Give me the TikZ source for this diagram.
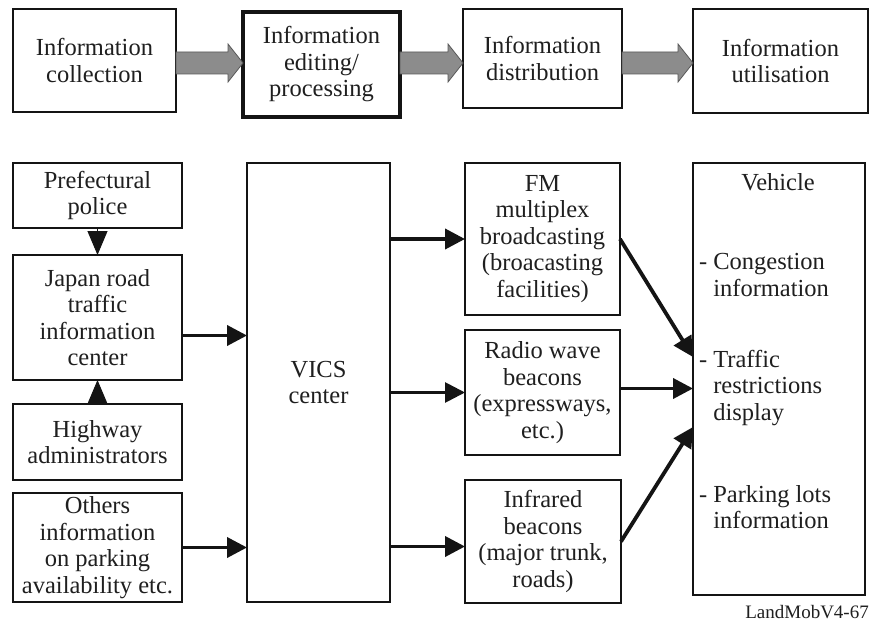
\documentclass[tikz,border=0pt]{standalone}
\usepackage{fontspec}
\setmainfont{Liberation Serif}
\usetikzlibrary{arrows.meta,calc}
\begin{document}
\begin{tikzpicture}[x=1pt,y=-1pt,
  box/.style={draw=black!92, line width=2.8pt, fill=white, align=center,
    inner sep=0pt, outer sep=0pt, font=\fontsize{24.5}{26.5}\selectfont, text=black!88},
  txt/.style={inner sep=0pt, outer sep=0pt, font=\fontsize{24.5}{26.5}\selectfont, text=black!88},
  conn/.style={draw=black!92, line width=3.8pt, -{Triangle[length=20pt,width=20pt]}},
  thinconn/.style={draw=black!92, line width=2.8pt, -{Triangle[length=20pt,width=20pt]}},
  smalltri/.style={draw=black!92, line width=1pt, -{Triangle[length=24pt,width=20pt]}},
  fat/.style={fill=black!45, draw=black!65, line width=0.8pt, line join=miter}
]
\useasboundingbox (0,0) rectangle (870,623);
\fill[white] (0,0) rectangle (870,623);

% top row
\node[box, minimum width=163pt, minimum height=103pt] (t1) at (94.5,60.5) {Information\\collection};
\node[box, line width=3.4pt, minimum width=157pt, minimum height=105pt] (t2) at (321.5,64.5) {Information\\editing/\\processing};
\node[box, minimum width=159pt, minimum height=99pt] (t3) at (542.5,58.5) {Information\\distribution};
\node[box, minimum width=175pt, minimum height=104pt] (t4) at (780.5,61) {Information\\utilisation};

\foreach \a/\b in {t1/t2,t2/t3,t3/t4}{
  \draw[fat] let \p1=(\a.east), \p2=(\b.west) in
    (\x1,-52pt) -- (\x2-15pt,-52pt) -- (\x2-15pt,-44pt) -- (\x2,-63pt)
    -- (\x2-15pt,-82pt) -- (\x2-15pt,-74pt) -- (\x1,-74pt) -- cycle;
}

% bottom section
\node[box, minimum width=169pt, minimum height=65pt] (pp) at (97.5,195.5) {Prefectural\\police};
\node[box, minimum width=169pt, minimum height=125pt] (jr) at (97.5,317.5) {Japan road\\traffic\\information\\center};
\node[box, minimum width=169pt, minimum height=76pt] (hw) at (97.5,442) {Highway\\administrators};
\node[box, minimum width=169pt, minimum height=109pt] (ot) at (97.5,547.5) {Others\\information\\on parking\\availability etc.};
\node[box, minimum width=143pt, minimum height=439pt] (vics) at (318.5,382.5) {VICS\\center};
\node[box, minimum width=155pt, minimum height=152pt] (fm) at (542.5,239) {FM\\multiplex\\broadcasting\\(broacasting\\facilities)};
\node[box, minimum width=155pt, minimum height=125pt] (rw) at (542.5,392.5) {Radio wave\\beacons\\(expressways,\\etc.)};
\node[box, minimum width=156pt, minimum height=123pt] (ir) at (543,541.5) {Infrared\\beacons\\(major trunk,\\roads)};
\node[box, minimum width=172pt, minimum height=432pt] (veh) at (779,379) {};

\node[txt] (vt) at (778,182) {Vehicle};
\node[txt, anchor=west, align=left] (v1) at (699,275) {- Congestion\\\hphantom{- }information};
\node[txt, anchor=west, align=left] (v2) at (699,388) {- Traffic\\\hphantom{- }restrictions\\\hphantom{- }display};
\node[txt, anchor=west, align=left] (v3) at (699,507) {- Parking lots\\\hphantom{- }information};

\node[inner sep=0pt, anchor=east, font=\fontsize{19}{22}\selectfont, text=black!88] (lbl) at (869,612) {LandMobV4-67};

% connectors
\draw[smalltri] (pp.south) -- (jr.north);
\draw[smalltri] (hw.north) -- (jr.south);
\coordinate (ja) at ([yshift=-18pt]jr.east);
\draw[conn] (ja) -- (ja -| vics.west);
\draw[conn] (ot.east) -- (ot.east -| vics.west);
\draw[conn] (fm.west -| vics.east) -- (fm.west);
\draw[thinconn] (rw.west -| vics.east) -- (rw.west);
\coordinate (irw) at ([yshift=-5pt]ir.west);
\draw[conn] (irw -| vics.east) -- (irw);
\coordinate (ve1) at ([yshift=22pt]veh.west);
\coordinate (ve3) at ([yshift=-48pt]veh.west);
\coordinate (rwe) at ([yshift=4pt]rw.east);
\draw[conn] (fm.east) -- (ve1);
\draw[conn] (rwe) -- (rwe -| veh.west);
\draw[conn] (ir.east) -- (ve3);
\end{tikzpicture}
\end{document}
